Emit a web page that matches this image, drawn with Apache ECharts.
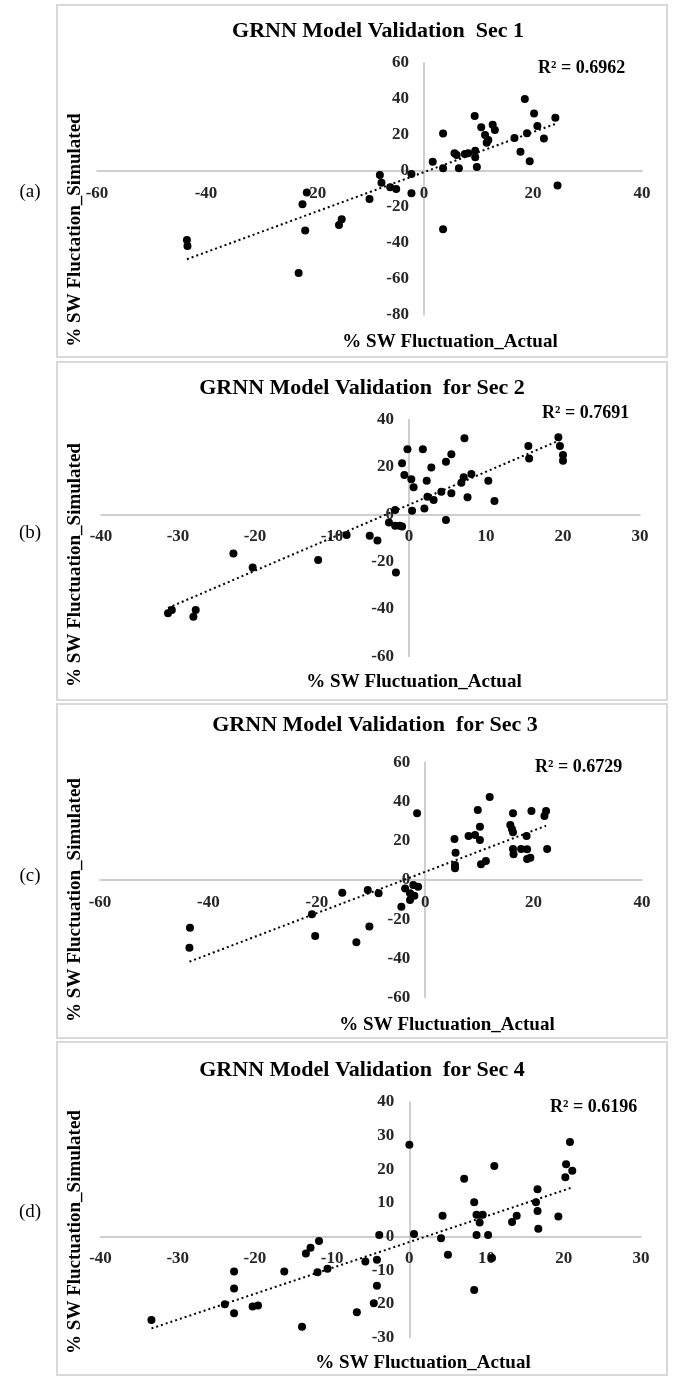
<!DOCTYPE html>
<html lang="en">
<head>
  <meta http-equiv="Content-Type" content="text/html; charset=UTF-8">
  <title>GRNN Model Validation</title>
  <script type="text/javascript" src="https://cdn.jsdelivr.net/npm/echarts@6/dist/echarts.min.js"></script>
  <style>body{margin:0;background:#fff;}</style>
</head>
<body>
<div id="main" style="width:673px;height:1378px;"></div>
<script type="text/javascript">
  // [actual %, simulated %]
  var sec1Points = [
    [-43.5, -38.3], [-43.4, -41.7], [-21.5, -12], [-22.3, -18.5], [-21.8, -33], [-23, -56.7],
    [-15.1, -26.8], [-15.6, -30], [-10, -15.6], [-8.1, -2.2], [-7.8, -6.5], [-6.2, -9], [-5.1, -10],
    [-2.3, -1.7], [-2.3, -12.4], [1.6, 5.2], [3.5, 20.9], [3.5, 1.5], [3.5, -32.4], [5.6, 9.8],
    [6.0, 8.9], [6.4, 1.5], [7.5, 9.4], [8.1, 9.8], [9.4, 11.3], [9.4, 7.6], [9.7, 2.2], [9.3, 30.5],
    [10.5, 24.3], [11.2, 20], [11.5, 15.7], [11.8, 17.2], [12.6, 25.7], [13, 22.8], [16.6, 18.3],
    [17.7, 10.7], [18.5, 40], [18.9, 21], [19.4, 5.4], [20.2, 32], [20.8, 25], [22, 18],
    [24.1, 29.6], [24.5, -8]
  ];
  var sec2Points = [
    [-31.3, -41.8], [-30.8, -40.4], [-28, -43.2], [-27.7, -40.4], [-22.8, -16.5], [-20.3, -22.4],
    [-11.8, -19.3], [-8.1, -8.7], [-5.1, -9], [-4.1, -11.1], [-2.6, -3.5], [-1.8, -4.8], [-1.8, 1.8],
    [-1.7, -24.6], [-1.2, -4.8], [-0.9, -5.1], [-0.2, 27.4], [-0.9, 21.5], [-0.6, 16.6], [0.3, 14.8],
    [0.6, 11.4], [0.4, 1.5], [1.8, 27.4], [2.3, 14.2], [2.9, 19.7], [2.4, 7.4], [3.2, 6], [2.0, 2.5],
    [4.2, 9.5], [4.8, 22.2], [5.5, 25.3], [5.5, 8.9], [4.8, -2.4], [7.2, 32.1], [7.1, 15.6],
    [6.8, 13.3], [8.1, 17], [7.6, 7.2], [10.3, 14.2], [11.1, 5.6], [15.5, 28.8], [15.6, 23.5],
    [19.4, 32.5], [19.6, 28.8], [20, 25], [20, 22.6]
  ];
  var sec3Points = [
    [-43.4, -24.4], [-43.5, -34.6], [-20.9, -17.5], [-20.3, -28.6], [-15.3, -6.5], [-12.7, -31.8],
    [-10.6, -5.1], [-10.3, -23.8], [-8.6, -6.8], [-1.5, 34.1], [-4.4, -13.6], [-3.7, -4.3],
    [-2.8, -6.8], [-2.8, -10.2], [-2, -8], [-1.3, -3.4], [-2.2, -2.6], [5.4, 20.9], [5.6, 13.9],
    [5.5, 7.7], [5.5, 6], [8, 22.5], [9.2, 23], [10.1, 20.4], [9.7, 35.8], [10.1, 27.2], [10.3, 8],
    [11.2, 9.7], [11.9, 42.4], [16.2, 34.1], [15.7, 28.1], [16, 26], [16.2, 24.4], [16.2, 15.8],
    [16.3, 13.1], [17.7, 15.8], [18.8, 15.7], [18.8, 10.7], [19.4, 11.4], [18.7, 22.5],
    [19.6, 35.2], [22, 32.7], [22.3, 35.2], [22.5, 15.8]
  ];
  var sec4Points = [
    [-33.4, -24.8], [-23.9, -20.1], [-22.7, -10.4], [-22.7, -15.4], [-22.7, -22.8], [-20.3, -20.8],
    [-19.6, -20.5], [-16.2, -10.4], [-13.9, -26.8], [-13.4, -5], [-12.8, -3.3], [-11.7, -1.3],
    [-11.9, -10.6], [-10.6, -9.6], [-6.8, -22.5], [-5.7, -7.4], [-4.2, -6.9], [-4.2, -14.6],
    [-4.6, -19.8], [-3.9, 0.5], [0, 27.3], [0.6, 0.8], [4.1, -0.5], [4.3, 6.2], [5, -5.4],
    [7.1, 17.2], [8.4, 10.2], [8.7, 6.5], [9.5, 6.5], [9.1, 4.2], [8.7, 0.5], [10.2, 0.5],
    [8.4, -15.9], [10.7, -6.4], [11, 21], [13.3, 4.3], [13.9, 6.2], [16.4, 10.2], [16.6, 14.1],
    [16.6, 7.6], [16.7, 2.3], [19.3, 6], [20.2, 17.6], [20.3, 21.5], [21.1, 19.6], [20.8, 28.1]
  ];

  // linear trendline ends as drawn
  var sec1Trend = [[-43.5, -49], [24.4, 26.5]];
  var sec2Trend = [[-31.3, -39.5], [19.6, 31.3]];
  var sec3Trend = [[-43.5, -41.7], [22.3, 27.7]];
  var sec4Trend = [[-33.4, -27.3], [21.1, 14.6]];

  var r2Labels = ['R\u00b2 = 0.6962', 'R\u00b2 = 0.7691', 'R\u00b2 = 0.6729', 'R\u00b2 = 0.6196'];
  var chartTitles = [
    'GRNN Model Validation  Sec 1',
    'GRNN Model Validation  for Sec 2',
    'GRNN Model Validation  for Sec 3',
    'GRNN Model Validation  for Sec 4'
  ];
  var panelTags = ['(a)', '(b)', '(c)', '(d)'];
  var yTitles = [
    '% SW Fluctation_Simulated',
    '% SW Fluctuation_Simulated',
    '% SW Fluctuation_Simulated',
    '% SW Fluctuation_Simulated'
  ];
  var xTitle = '% SW Fluctuation_Actual';

  // [min, max, step]
  var xScales = [[-60, 40, 20], [-40, 30, 10], [-60, 40, 20], [-40, 30, 10]];
  var yScales = [[-80, 60, 20], [-60, 40, 20], [-60, 60, 20], [-30, 40, 10]];

  var pointSets = [sec1Points, sec2Points, sec3Points, sec4Points];
  var trendSets = [sec1Trend, sec2Trend, sec3Trend, sec4Trend];

  // page layout of each panel (pixels)
  var panels = [
    {box: [5, 357],    grid: [97, 63, 545, 252],      title: [378, 31],   r2: [538, 68],   xt: [450, 342],  yt: 230,  tag: 192},
    {box: [362, 700],  grid: [101, 419.5, 539, 237],  title: [362, 388],  r2: [542, 413],  xt: [414, 682],  yt: 565,  tag: 533},
    {box: [704, 1038], grid: [100, 762.5, 542, 235],  title: [375, 725],  r2: [535, 767],  xt: [447, 1025], yt: 900,  tag: 876},
    {box: [1042, 1375],grid: [100.5, 1102, 540.5, 235.5], title: [362, 1070], r2: [550, 1107], xt: [423, 1363], yt: 1232, tag: 1212}
  ];

  var serif = '"Liberation Serif", "Times New Roman", serif';
  var myChart = echarts.init(document.getElementById('main'));

  var grids = [], xAxes = [], yAxes = [], series = [], graphics = [];

  panels.forEach(function (p, i) {
    var xs = xScales[i], ys = yScales[i];
    grids.push({left: p.grid[0], top: p.grid[1], width: p.grid[2], height: p.grid[3],
      containLabel: false, outerBoundsMode: 'none'});

    // axes cross at zero, Excel style: shift each axis from the grid edge to the zero line
    var xShift = (0 - ys[0]) / (ys[1] - ys[0]) * p.grid[3];
    var yShift = (0 - xs[0]) / (xs[1] - xs[0]) * p.grid[2];

    var labelStyle = {fontFamily: serif, fontWeight: 'bold', fontSize: 17, color: '#262626',
      showMinLabel: true, showMaxLabel: true};

    xAxes.push({
      gridIndex: i, type: 'value', min: xs[0], max: xs[1], interval: xs[2],
      position: 'bottom', offset: -xShift,
      axisLine: {onZero: false, lineStyle: {color: '#bfbfbf', width: 1.5}},
      axisTick: {show: false}, splitLine: {show: false},
      axisLabel: Object.assign({margin: 14}, labelStyle)
    });
    yAxes.push({
      gridIndex: i, type: 'value', min: ys[0], max: ys[1], interval: ys[2],
      position: 'left', offset: -yShift,
      axisLine: {onZero: false, lineStyle: {color: '#bfbfbf', width: 1.5}},
      axisTick: {show: false}, splitLine: {show: false},
      axisLabel: Object.assign({margin: 15}, labelStyle)
    });

    series.push({
      type: 'line', xAxisIndex: i, yAxisIndex: i, data: trendSets[i],
      symbol: 'none', silent: true, z: 3,
      lineStyle: {color: '#000', width: 2, type: [2, 3]}
    });
    series.push({
      type: 'scatter', xAxisIndex: i, yAxisIndex: i, data: pointSets[i],
      symbol: 'circle', symbolSize: 8, z: 2,
      itemStyle: {color: '#000', opacity: 1}
    });

    // panel frame
    graphics.push({
      type: 'rect', shape: {x: 57, y: p.box[0], width: 610, height: p.box[1] - p.box[0]},
      style: {fill: 'none', stroke: '#d9d9d9', lineWidth: 2}, silent: true
    });
    graphics.push({
      type: 'text', x: p.title[0], y: p.title[1],
      style: {text: chartTitles[i], font: 'bold 22px ' + serif, fill: '#000',
        textAlign: 'center', textVerticalAlign: 'middle'}
    });
    graphics.push({
      type: 'text', x: p.r2[0], y: p.r2[1],
      style: {text: r2Labels[i], font: 'bold 18px ' + serif, fill: '#000',
        textAlign: 'left', textVerticalAlign: 'middle'}
    });
    graphics.push({
      type: 'text', x: p.xt[0], y: p.xt[1],
      style: {text: xTitle, font: 'bold 19px ' + serif, fill: '#000',
        textAlign: 'center', textVerticalAlign: 'middle'}
    });
    graphics.push({
      type: 'text', x: 75, y: p.yt, rotation: Math.PI / 2,
      style: {text: yTitles[i], font: 'bold 19px ' + serif, fill: '#000',
        textAlign: 'center', textVerticalAlign: 'middle'}
    });
    graphics.push({
      type: 'text', x: 30, y: p.tag,
      style: {text: panelTags[i], font: '19px ' + serif, fill: '#000',
        textAlign: 'center', textVerticalAlign: 'middle'}
    });
  });

  myChart.setOption({
    animation: false,
    backgroundColor: '#fff',
    grid: grids,
    xAxis: xAxes,
    yAxis: yAxes,
    series: series,
    graphic: graphics
  });
</script>
</body>
</html>
